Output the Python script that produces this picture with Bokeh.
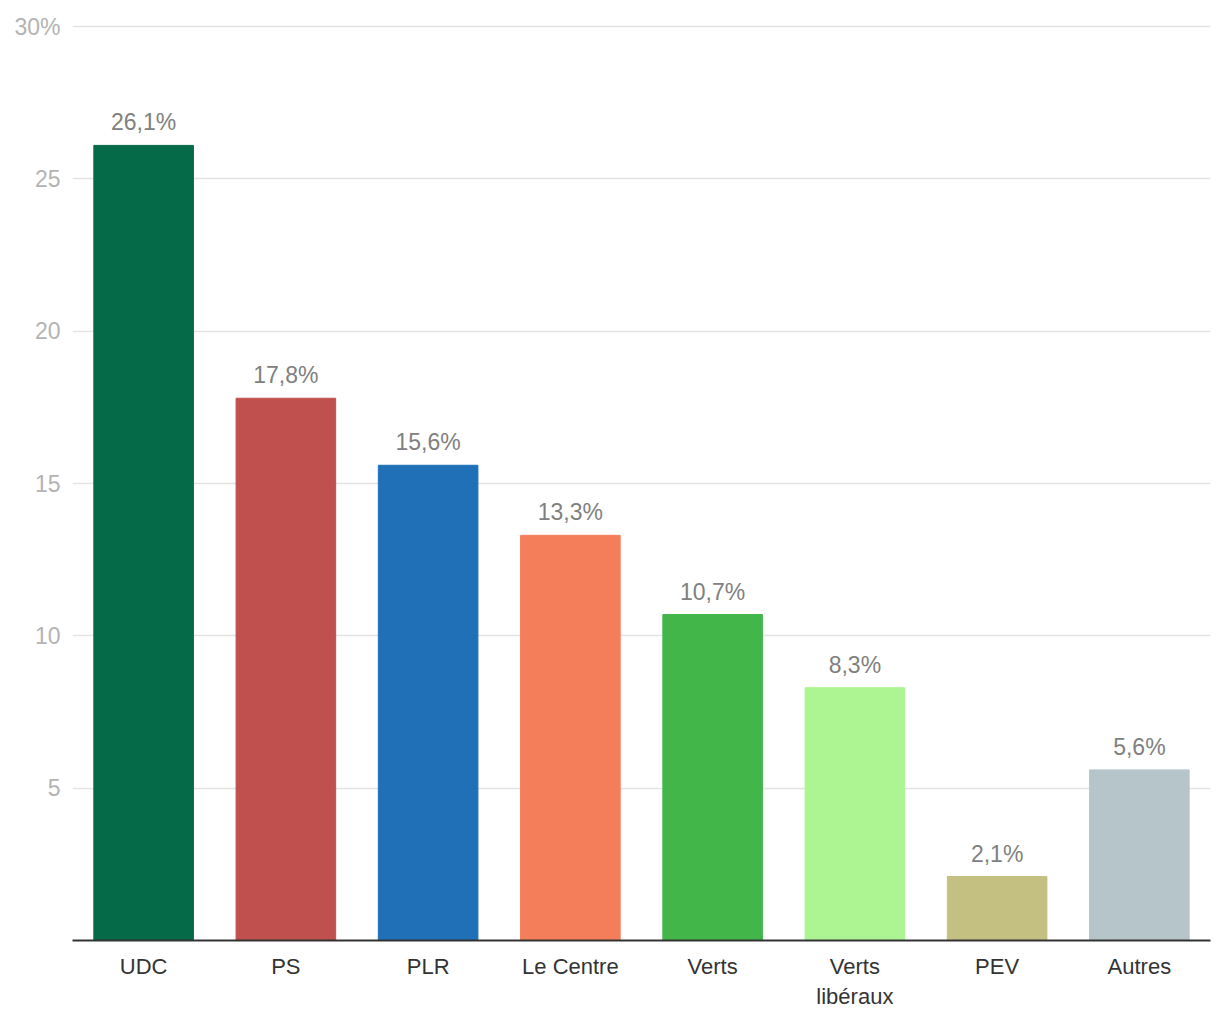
from bokeh.plotting import figure
from bokeh.models import ColumnDataSource, FixedTicker, FactorRange, Range1d
from bokeh.core.properties import value
from bokeh.embed import file_html
from bokeh.resources import INLINE

parties = ["UDC", "PS", "PLR", "Le Centre", "Verts", "Verts\nlibéraux", "PEV", "Autres"]
shares = [26.1, 17.8, 15.6, 13.3, 10.7, 8.3, 2.1, 5.6]
labels = ["26,1%", "17,8%", "15,6%", "13,3%", "10,7%", "8,3%", "2,1%", "5,6%"]
colors = ["#046a48", "#c0504d", "#2070b8", "#f47e5a", "#43b649", "#adf593", "#c4c082", "#b6c5c9"]
y_ticks = [5, 10, 15, 20, 25, 30]

FONT = "Liberation Sans"

src = ColumnDataSource(dict(party=parties, share=shares, label=labels, color=colors))

p = figure(x_range=FactorRange(*parties, range_padding=0), y_range=Range1d(0, 30.2),
           width=1212, height=1016, output_backend="svg", toolbar_location=None,
           min_border_left=72, min_border_right=2, min_border_top=20, min_border_bottom=76)
p.outline_line_color = None
p.background_fill_color = "white"

p.vbar(x="party", top="share", width=0.7, color="color", source=src)
p.text(x="party", y="share", text="label", source=src, text_align="center",
       text_baseline="alphabetic", y_offset=-23, text_font=value(FONT),
       text_font_size="23px", text_color="#808080")

# y axis
p.yaxis.ticker = FixedTicker(ticks=y_ticks)
p.yaxis.major_label_overrides = {30: "30%"}
p.yaxis.axis_line_color = None
p.yaxis.major_tick_line_color = None
p.yaxis.minor_tick_line_color = None
p.yaxis.major_label_text_font = FONT
p.yaxis.major_label_text_font_size = "23px"
p.yaxis.major_label_text_color = "#b3b3b3"
p.yaxis.major_label_standoff = 6
p.ygrid.ticker = FixedTicker(ticks=y_ticks)
p.ygrid.grid_line_color = "#e3e3e3"
p.ygrid.grid_line_width = 1.5
p.xgrid.grid_line_color = None

# x axis
p.xaxis.axis_line_color = "#333333"
p.xaxis.axis_line_width = 2
p.xaxis.major_tick_line_color = None
p.xaxis.minor_tick_line_color = None
p.xaxis.major_label_text_font = FONT
p.xaxis.major_label_text_font_size = "22px"
p.xaxis.major_label_text_color = "#333333"
p.xaxis.major_label_standoff = 7
p.xaxis.major_label_orientation = "horizontal"

open("out.html", "w").write(file_html(p, INLINE))
